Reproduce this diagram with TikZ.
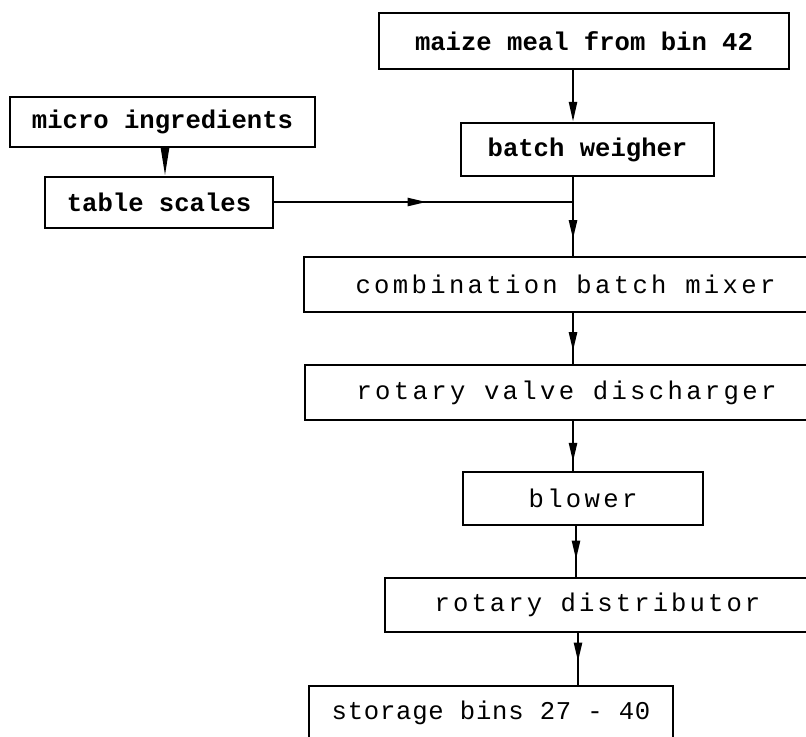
\documentclass[tikz,border=0pt]{standalone}
\usepackage{fontspec}
\setmonofont{Liberation Mono}
\usepackage{tikz}
\usetikzlibrary{arrows.meta,decorations.markings}

\begin{document}
\begin{tikzpicture}[x=0.5pt,y=-0.5pt,
	box/.style={draw,line width=1.2pt,inner sep=0pt},
	boldtxt/.style={font=\ttfamily\bfseries\fontsize{12.8}{15}\selectfont},
	widetxt/.style={font=\ttfamily\fontsize{12.8}{15}\selectfont\addfontfeatures{LetterSpace=#1}},
	flow/.style={line width=1.2pt},
	tip/.style={flow,-{Triangle[length=#1,width=4pt]}},
	midtip/.style={flow,postaction={decorate},
		decoration={markings,mark=at position #1 with {\arrow{Triangle[length=9.5pt,width=4pt]}}}}]
		% frame of the page
		\useasboundingbox (0,0) rectangle (806,736);
		\clip (0,0) rectangle (806,736);
		
		% boxes of the feed line
		\node[box,boldtxt,minimum width=205pt,minimum height=28pt] (maize) at (584,41) {maize meal from bin 42};
		\node[box,boldtxt,minimum width=152.5pt,minimum height=25pt] (micro) at (162.5,122) {micro ingredients};
		\node[box,boldtxt,minimum width=126.5pt,minimum height=26.5pt] (weigher) at (587.5,149.5) {batch weigher};
		\node[box,boldtxt,minimum width=114pt,minimum height=25.5pt] (scales) at (159,202.5) {table scales};
		\node[box,widetxt=13,minimum width=261.5pt,minimum height=27.5pt] (mixer) at (565.5,284.5) {combination batch mixer};
		\node[box,widetxt=13,minimum width=261.5pt,minimum height=27.5pt] (valve) at (566.5,392.5) {rotary valve discharger};
		\node[box,widetxt=13,minimum width=120pt,minimum height=26.5pt] (blower) at (583,498.5) {blower};
		\node[box,widetxt=12,minimum width=212.5pt,minimum height=27pt] (distrib) at (597.5,605) {rotary distributor};
		\node[box,widetxt=3,minimum width=182pt,minimum height=27pt] (storage) at (491,713) {storage bins 27 - 40};
		
		% junction where the micro ingredients join
		\coordinate (join) at (573,202);
		
		% connectors
		\draw[tip=10pt] (maize.south -| join) -- (weigher.north -| join);
		\draw[tip=14pt] (micro.south -| 165,0) -- (scales.north -| 165,0);
		\draw[flow] (weigher.south -| join) -- (join);
		\draw[midtip=0.51] (scales.east |- join) -- (join);
		\draw[midtip=0.69] (join) -- (mixer.north -| join);
		\draw[midtip=0.75] (mixer.south -| join) -- (valve.north -| join);
		\draw[midtip=0.82] (valve.south -| join) -- (blower.north -| join);
		\draw[midtip=0.66] (blower.south -| 576,0) -- (distrib.north -| 576,0);
		\draw[midtip=0.55] (distrib.south -| 578,0) -- (storage.north -| 578,0);
	\end{tikzpicture}
\end{document}
